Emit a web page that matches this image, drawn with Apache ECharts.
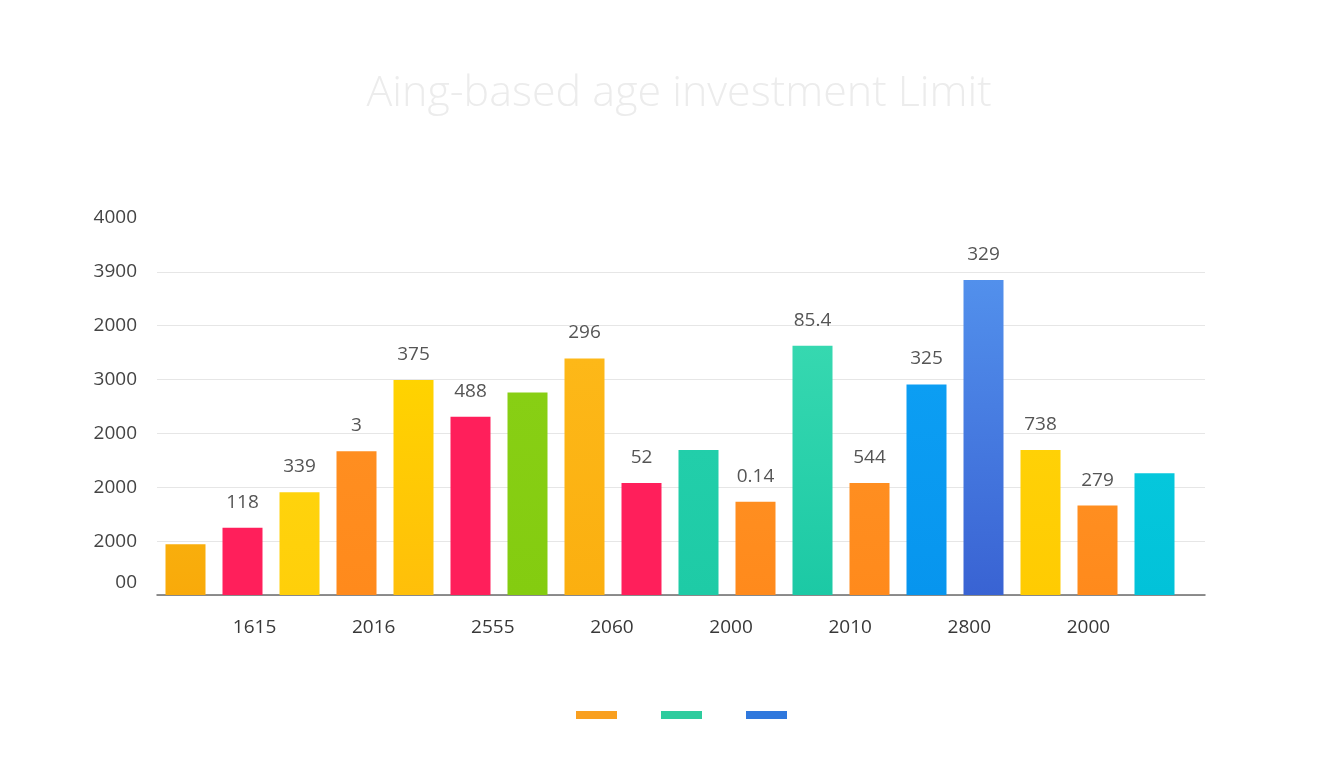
<!DOCTYPE html>
<html>
<head>
<meta charset="utf-8">
<script src="https://cdn.jsdelivr.net/npm/echarts@6/dist/echarts.min.js"></script>
<style>html,body{margin:0;padding:0;background:#fff;}#c{width:1344px;height:768px;}</style>
</head>
<body>
<div id="c"></div>
<script>
// ---- data ----
const titleText = 'Aing-based age investment Limit';
const barCategories = ['b1','b2','b3','b4','b5','b6','b7','b8','b9','b10','b11','b12','b13','b14','b15','b16','b17','b18'];
const barValues = [470, 625, 955, 1335, 1995, 1655, 1880, 2195, 1040, 1345, 865, 2315, 1040, 1955, 2925, 1345, 830, 1130];
const barLabels = ['', '118', '339', '3', '375', '488', '', '296', '52', '', '0.14', '85.4', '544', '325', '329', '738', '279', ''];
const barGroup = ['A','A','A','A','A','A','B','A','A','B','A','B','A','C','C','A','A','B'];
const xTickLabels = ['1615', '2016', '2555', '2060', '2000', '2010', '2800', '2000'];
const yTickLabels = ['00', '2000', '2000', '2000', '3000', '2000', '3900', '4000'];
const groupNames = ['A', 'B', 'C'];

// ---- styles ----
const groupColors = {A: '#F9A020', B: '#2ECC9E', C: '#2F78DD'};
const barColors = [
  ['#F9AE0C','#F9AA0A'], ['#FF1F5B','#FF1F5B'], ['#FFD30C','#FFCF0A'], ['#FF8E20','#FF8A1C'],
  ['#FFD300','#FFBF0A'], ['#FF1F5B','#FF1F5B'], ['#88CF14','#84CC10'], ['#FDB818','#FBAF10'],
  ['#FF1F5B','#FF1F5B'], ['#22CEAA','#1ECBA6'], ['#FF8E20','#FF8A1C'], ['#36D8B0','#1CC9A5'],
  ['#FF8E20','#FF8A1C'], ['#0C9EF3','#0795EE'], ['#5290EC','#3963D3'], ['#FFD106','#FFCB02'],
  ['#FF8E20','#FF8A1C'], ['#05C7DC','#02C2D9']
];
const FONT = 'Open Sans';
const UNIT = 500;

function grad(c) {
  return new echarts.graphic.LinearGradient(0, 0, 0, 1, [{offset: 0, color: c[0]}, {offset: 1, color: c[1]}]);
}

const series = groupNames.map(g => ({
  name: g,
  type: 'bar',
  xAxisIndex: 1,
  yAxisIndex: 1,
  barWidth: 40,
  barGap: '-100%',
  itemStyle: {color: groupColors[g]},
  label: {
    show: true,
    position: 'top',
    distance: 16,
    fontFamily: FONT,
    fontSize: 19,
    color: '#555',
    formatter: p => barLabels[p.dataIndex]
  },
  data: barValues.map((v, i) => barGroup[i] === g ? {value: v, itemStyle: {color: grad(barColors[i])}} : '-')
}));

const chart = echarts.init(document.getElementById('c'), null, {renderer: 'canvas'});
chart.setOption({
  backgroundColor: '#ffffff',
  animation: false,
  title: {
    text: titleText,
    left: 674,
    textAlign: 'center',
    top: 64,
    textStyle: {fontFamily: FONT, fontSize: 43, fontWeight: 300, color: '#ececec', lineHeight: 50}
  },
  legend: {
    data: groupNames,
    left: 576,
    top: 711,
    padding: 0,
    icon: 'rect',
    itemWidth: 41,
    itemHeight: 8,
    itemGap: 44,
    formatter: () => '',
    textStyle: {fontSize: 12},
    selectedMode: false
  },
  grid: [
    {left: 157, right: 139, top: 218, bottom: 173},
    {left: 157, right: 161, top: 218, bottom: 173},
    {left: 195, right: 196, top: 218, bottom: 173}
  ],
  xAxis: [
    {gridIndex: 0, type: 'category', data: [''], axisLine: {show: true, lineStyle: {color: '#6b6b6b', width: 1.5}}, axisTick: {show: false}, axisLabel: {show: false}},
    {gridIndex: 1, type: 'category', data: barCategories, show: false},
    {gridIndex: 2, type: 'category', data: xTickLabels, axisLine: {show: false}, axisTick: {show: false},
      axisLabel: {fontFamily: FONT, fontSize: 19, color: '#383838', margin: 23}}
  ],
  yAxis: [
    {gridIndex: 0, type: 'value', min: 0, max: 3500, interval: UNIT,
      axisLine: {show: false}, axisTick: {show: false},
      splitLine: {show: true, showMaxLine: false, lineStyle: {color: '#e6e6e6', width: 1}},
      axisLabel: {
        margin: 20, fontFamily: FONT, fontSize: 19, color: '#444',
        formatter: v => v === 0 ? '{z|' + yTickLabels[0] + '}' : yTickLabels[Math.round(v / UNIT)],
        rich: {z: {fontFamily: FONT, fontSize: 19, color: '#444', padding: [0, 0, 24, 0]}}
      }},
    {gridIndex: 1, type: 'value', min: 0, max: 3500, interval: UNIT, show: false},
    {gridIndex: 2, type: 'value', min: 0, max: 3500, interval: UNIT, show: false}
  ],
  series: series
});
</script>
</body>
</html>
